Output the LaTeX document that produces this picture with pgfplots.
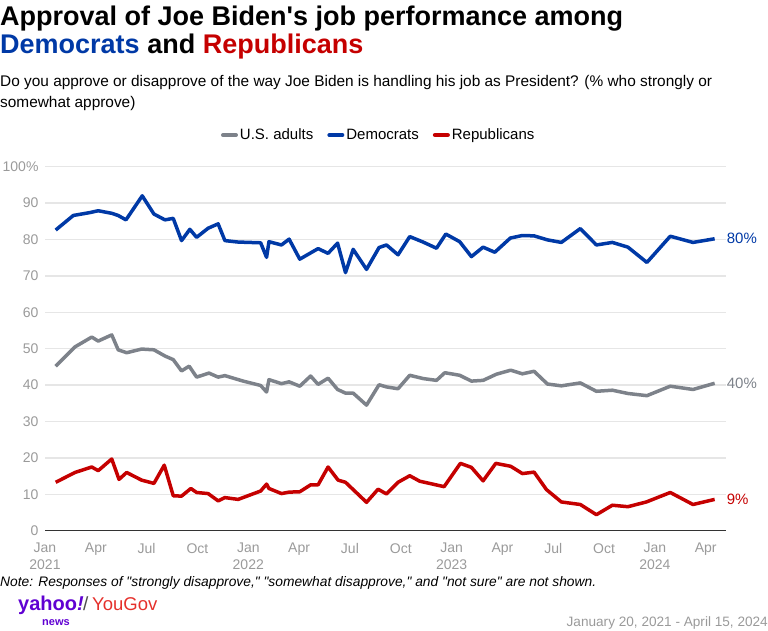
\documentclass[border=0pt]{standalone}
\usepackage{pgfplots}
\pgfplotsset{compat=1.18}
\usepackage{fontspec}
\setmainfont{Liberation Sans}
\definecolor{dem}{HTML}{0039A6}
\definecolor{rep}{HTML}{C50000}
\definecolor{adl}{HTML}{7D828A}
\definecolor{tickc}{HTML}{9A9A9A}
\definecolor{gridc}{HTML}{E6E6E6}
\definecolor{yahoo}{HTML}{6001D2}
\definecolor{yougov}{HTML}{E5302B}
\begin{document}
\begin{tikzpicture}[x=1pt,y=1pt]
\path[use as bounding box] (0,0) rectangle (768,-630);
\node[anchor=base west, inner sep=0pt] at (0,-25) {\fontsize{27}{30}\selectfont\bfseries Approval of Joe Biden\textquotesingle s job performance among};
\node[anchor=base west, inner sep=0pt] at (0,-53) {\fontsize{27}{30}\selectfont\bfseries \textcolor{dem}{Democrats} and \textcolor{rep}{Republicans}};
\node[anchor=base west, inner sep=0pt] at (0,-86) {\fontsize{15.4}{18}\selectfont Do you approve or disapprove of the way Joe Biden is handling his job as President? (\% who strongly or};
\node[anchor=base west, inner sep=0pt] at (0,-107) {\fontsize{15.4}{18}\selectfont somewhat approve)};
\begin{axis}[
  at={(45pt,-530.7pt)}, anchor=south west,
  scale only axis, width=681pt, height=364pt,
  xmin=0, xmax=40.2, ymin=0, ymax=100,
  axis x line*=bottom, axis y line*=left,
  y axis line style={draw=none},
  x axis line style={draw=black!80, line width=1.3pt},
  major tick length=0pt,
  ymajorgrids, grid style={gridc, line width=1.3pt},
  ytick={0,10,...,100},
  yticklabels={0,10,20,30,40,50,60,70,80,90,100\%},
  xtick={0,3,...,39},
  xticklabels={Jan\\2021,Apr,Jul,Oct,Jan\\2022,Apr,Jul,Oct,Jan\\2023,Apr,Jul,Oct,Jan\\2024,Apr},
  xticklabel style={align=center, font=\fontsize{14}{17}\selectfont, text=tickc, yshift=-9pt},
  yticklabel style={font=\fontsize{14}{16}\selectfont, text=tickc, anchor=east, xshift=-3pt},
  legend columns=3,
  legend style={at={(0.49,1.087)}, anchor=center, draw=none, fill=none,
    font=\fontsize{15}{17}\selectfont,
    /tikz/every even column/.append style={column sep=12pt}},
  legend image code/.code={\draw[#1, line width=4pt, line cap=round] (0pt,0pt) -- (13pt,0pt);},
  clip=false,
]
\addplot[adl, line width=3.5pt, line join=round] coordinates {
(0.63,45.2)(1.77,50.5)(2.76,53.2)(3.14,52.1)(3.94,53.8)(4.32,49.7)(4.82,48.9)(5.70,49.9)(6.43,49.7)(7.08,48.0)(7.57,47.0)(8.06,43.9)(8.51,45.2)(8.95,42.2)(9.68,43.3)(10.22,42.2)(10.62,42.6)(11.70,41.1)(12.73,39.9)(13.08,38.1)(13.22,41.5)(13.96,40.4)(14.41,40.9)(15.04,39.7)(15.68,42.5)(16.12,40.2)(16.71,41.9)(17.27,38.8)(17.74,37.8)(18.19,37.8)(18.98,34.5)(19.72,40.1)(20.16,39.5)(20.84,39.0)(21.53,42.7)(22.32,41.8)(23.11,41.3)(23.60,43.4)(24.48,42.7)(25.17,41.1)(25.86,41.3)(26.65,43.0)(27.49,44.1)(28.18,43.1)(28.87,43.8)(29.66,40.3)(30.48,39.8)(31.60,40.6)(32.55,38.3)(33.49,38.6)(34.41,37.7)(35.53,37.1)(36.91,39.7)(38.25,38.8)(39.53,40.5)
};
\addlegendentry{U.S. adults}
\addplot[dem, line width=3.5pt, line join=round] coordinates {
(0.63,82.6)(1.67,86.6)(2.65,87.4)(3.14,87.9)(3.94,87.2)(4.32,86.6)(4.78,85.4)(5.74,92.0)(6.43,87.0)(7.08,85.4)(7.57,85.8)(8.06,79.7)(8.55,82.8)(8.95,80.6)(9.63,83.1)(10.22,84.3)(10.62,79.7)(11.40,79.3)(12.73,79.1)(13.08,75.1)(13.22,79.4)(13.96,78.5)(14.41,80.1)(15.04,74.6)(16.12,77.5)(16.71,76.2)(17.27,79.0)(17.74,70.9)(18.19,77.3)(18.98,71.8)(19.72,77.8)(20.16,78.5)(20.84,75.8)(21.53,80.8)(22.32,79.3)(23.11,77.6)(23.66,81.5)(24.48,79.4)(25.17,75.3)(25.86,77.9)(26.55,76.5)(27.47,80.4)(28.18,81.1)(28.87,81.0)(29.66,79.9)(30.48,79.2)(31.60,83.0)(32.55,78.5)(33.49,79.2)(34.41,77.9)(35.53,73.7)(36.91,80.9)(38.25,79.2)(39.53,80.2)
};
\addlegendentry{Democrats}
\addplot[rep, line width=3.5pt, line join=round] coordinates {
(0.63,13.3)(1.77,16.0)(2.76,17.5)(3.14,16.5)(3.94,19.7)(4.37,14.1)(4.82,16.0)(5.70,13.9)(6.43,13.0)(7.04,18.0)(7.57,9.6)(8.06,9.5)(8.61,11.6)(8.95,10.5)(9.63,10.2)(10.22,8.2)(10.62,9.1)(11.40,8.6)(12.73,10.9)(13.08,12.8)(13.22,11.6)(13.96,10.2)(14.41,10.6)(15.04,10.7)(15.68,12.6)(16.12,12.6)(16.71,17.5)(17.30,13.9)(17.74,13.3)(18.98,7.8)(19.66,11.4)(20.16,10.1)(20.84,13.3)(21.53,15.1)(22.12,13.6)(23.56,12.1)(24.52,18.5)(25.17,17.4)(25.86,13.7)(26.61,18.5)(27.49,17.7)(28.18,15.7)(28.87,16.1)(29.60,11.3)(30.48,7.9)(31.60,7.2)(32.55,4.4)(33.49,7.0)(34.41,6.6)(35.50,7.9)(36.91,10.5)(38.25,7.2)(39.53,8.6)
};
\addlegendentry{Republicans}
\node[anchor=west, text=dem, font=\fontsize{15}{17}\selectfont, inner sep=0pt] at (axis cs:39.53,80.2) [xshift=12pt] {80\%};
\node[anchor=west, text=adl, font=\fontsize{15}{17}\selectfont, inner sep=0pt] at (axis cs:39.53,40.5) [xshift=12pt] {40\%};
\node[anchor=west, text=rep, font=\fontsize{15}{17}\selectfont, inner sep=0pt] at (axis cs:39.53,8.6) [xshift=12pt] {9\%};
\end{axis}
\node[anchor=base west, inner sep=0pt] at (0,-586) {\fontsize{13.8}{16}\selectfont\itshape Note: Responses of \textquotedbl strongly disapprove,\textquotedbl{} \textquotedbl somewhat disapprove,\textquotedbl{} and \textquotedbl not sure\textquotedbl{} are not shown.};
\node[anchor=base west, inner sep=0pt, text=yahoo] at (18,-610) {\fontsize{20}{22}\selectfont\bfseries yahoo\itshape !};
\node[anchor=base west, inner sep=0pt, text=black!70] at (83,-610) {\fontsize{19}{22}\selectfont /};
\node[anchor=base west, inner sep=0pt, text=yougov] at (92,-610) {\fontsize{18.5}{22}\selectfont YouGov};
\node[anchor=base west, inner sep=0pt, text=yahoo] at (42,-625) {\fontsize{11}{12}\selectfont\bfseries news};
\node[anchor=base east, inner sep=0pt, text=tickc] at (768,-626) {\fontsize{13.6}{16}\selectfont January 20, 2021 - April 15, 2024};
\end{tikzpicture}
\end{document}
